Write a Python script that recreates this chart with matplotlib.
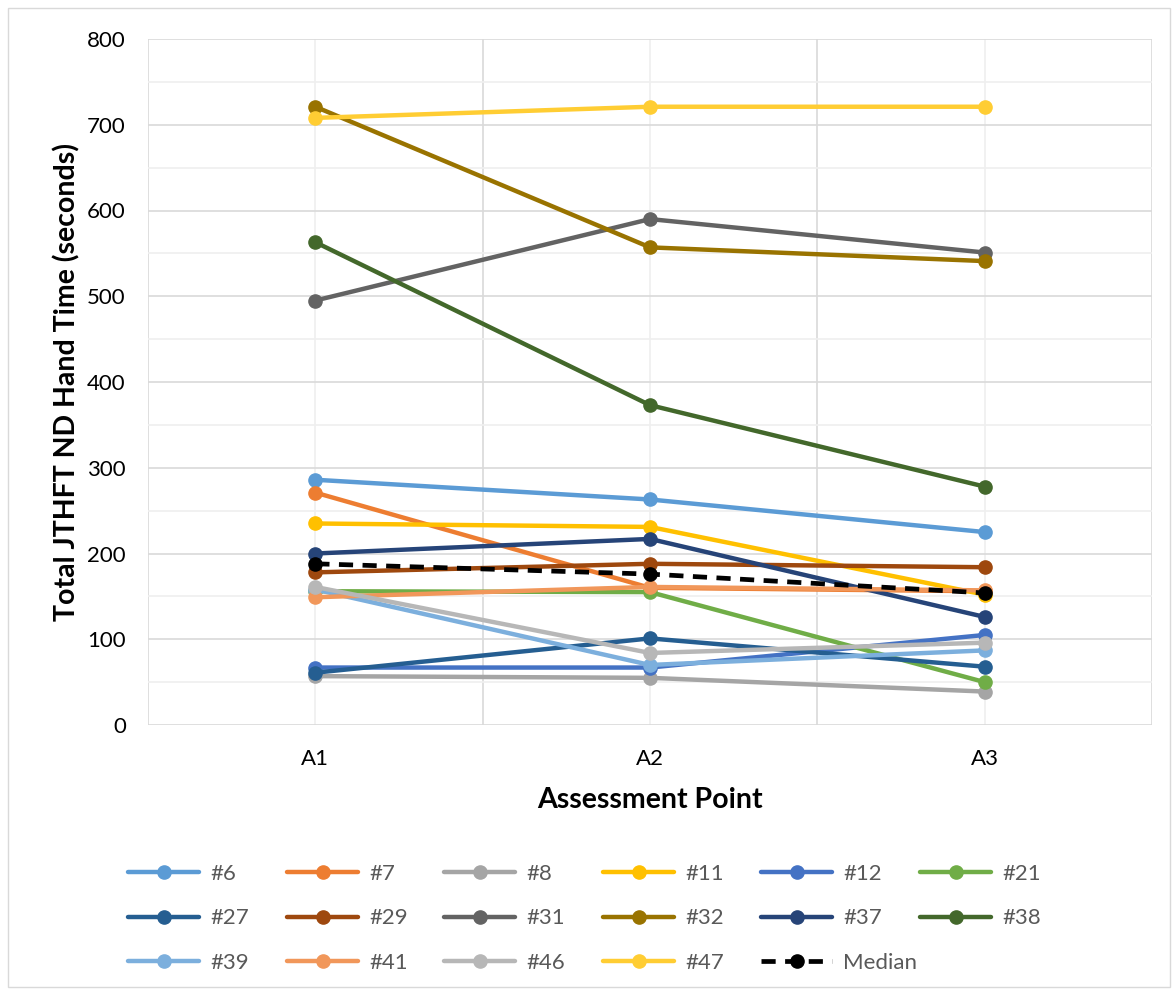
import matplotlib.pyplot as plt
from matplotlib.patches import Rectangle

# assessment points and hand time per participant (seconds)
points = ["A1", "A2", "A3"]

participants = ["#6", "#7", "#8", "#11", "#12", "#21", "#27", "#29", "#31",
                "#32", "#37", "#38", "#39", "#41", "#46", "#47"]

times = {
    "#6":  [286, 263, 225],
    "#7":  [271, 160, 156],
    "#8":  [57, 55, 39],
    "#11": [235, 231, 152],
    "#12": [67, 67, 105],
    "#21": [156, 155, 50],
    "#27": [61, 101, 68],
    "#29": [178, 188, 184],
    "#31": [495, 590, 551],
    "#32": [721, 557, 541],
    "#37": [200, 217, 126],
    "#38": [563, 373, 278],
    "#39": [158, 70, 87],
    "#41": [149, 161, 157],
    "#46": [161, 84, 96],
    "#47": [708, 721, 721],
}

median = [188, 176, 154]

colors = ["#5B9BD5", "#ED7D31", "#A5A5A5", "#FFC000", "#4472C4", "#70AD47",
          "#255E91", "#9E480E", "#636363", "#997300", "#264478", "#43682B",
          "#7CAFDD", "#F1975A", "#B7B7B7", "#FFCD33"]

plt.rcParams['font.family'] = ['Lato', 'DejaVu Sans']

fig = plt.figure(figsize=(11.75, 9.89), dpi=100)
ax = fig.add_axes([148 / 1175, 1 - 725 / 989, (1152 - 148) / 1175, (725 - 39) / 989])

x = [1, 2, 3]
handles = []
for name, c in zip(participants, colors):
    h, = ax.plot(x, times[name], color=c, lw=3.2, marker="o", ms=9.5, label=name,
                 solid_capstyle="round")
    handles.append(h)

h, = ax.plot(x, median, color="black", lw=3.4, ls=(0, (3, 2)), marker="o", ms=9.5,
             label="Median")
handles.append(h)

# axes and grid
ax.set_xlim(0.5, 3.5)
ax.set_ylim(0, 800)
ax.set_yticks(range(0, 801, 100))
ax.set_yticks(range(50, 800, 100), minor=True)
ax.set_xticks(x)
ax.set_xticklabels(points)
ax.set_xticks([0.5, 1.5, 2.5, 3.5], minor=True)
ax.tick_params(which="both", length=0, labelsize=16, colors="black")
ax.tick_params(axis="y", pad=16)
ax.tick_params(axis="x", pad=17)

ax.grid(True, which="major", axis="y", color="#D9D9D9", lw=1.2)
ax.grid(True, which="minor", axis="y", color="#EFEFEF", lw=1.2)
ax.grid(True, which="minor", axis="x", color="#D9D9D9", lw=1.2)
ax.grid(True, which="major", axis="x", color="#EFEFEF", lw=1.2)
ax.set_axisbelow(True)
for s in ax.spines.values():
    s.set_visible(False)

ax.set_xlabel("Assessment Point", fontsize=20.5, fontweight="bold", labelpad=13)
ax.set_ylabel("Total JTHFT ND Hand Time (seconds)", fontsize=20.5, fontweight="bold",
              labelpad=5)

# legend: 6 fixed-width columns, filled row by row
col_x = [128, 287, 444, 603, 761, 920]
for j, cx in enumerate(col_x):
    col = [handles[6 * i + j] for i in range(3) if 6 * i + j < len(handles)]
    leg = fig.legend(col, [h.get_label() for h in col], loc="upper left",
                     bbox_to_anchor=(cx / 1175, 1 - 864 / 989), frameon=False,
                     fontsize=16, handlelength=3.2, labelspacing=1.1,
                     handletextpad=0.5, borderpad=0, borderaxespad=0)
    for t in leg.get_texts():
        t.set_color("#595959")

fig.patches.append(Rectangle((8 / 1175, 2 / 989), 1162 / 1175, 979 / 989,
                             transform=fig.transFigure, fill=False,
                             edgecolor="#D9D9D9", lw=1))

fig.savefig("out.png", dpi=100)
